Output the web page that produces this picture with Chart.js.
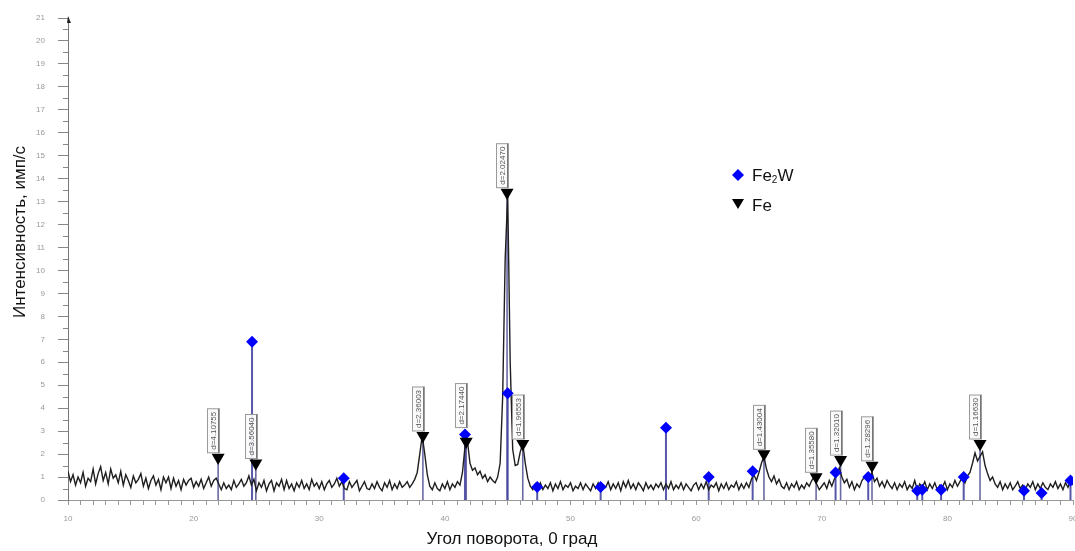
<!DOCTYPE html>
<html>
<head>
<meta charset="utf-8">
<script src="https://cdn.jsdelivr.net/npm/chart.js@4.4.1/dist/chart.umd.min.js"></script>
<style>
html,body{margin:0;padding:0;background:#fff;}
#wrap{position:relative;width:1075px;height:551px;}
</style>
</head>
<body>
<div id="wrap"><canvas id="c"></canvas></div>
<script>
// ---- data ----
const xTitle = 'Угол поворота, 0 град';
const yTitle = 'Интенсивность, имп/с';
const traceStart = 10;
const traceStep = 0.2;
const intensity = [
 1.25,0.8,1.1,0.65,1.0,   0.75,1.2,0.6,0.95,0.8,   1.35,0.7,1.15,1.45,0.85, 1.2,0.7,1.35,0.95,1.1,  0.75,1.25,0.65,1.1,0.85,
 0.55,1.05,0.75,0.9,1.15, 0.6,0.95,0.5,0.85,1.05,  0.65,0.9,0.45,1.0,0.75,  1.0,0.5,0.95,0.6,0.85,  0.45,0.9,0.65,0.85,0.95,
 0.55,0.8,0.6,0.9,0.5,    0.75,1.0,0.6,0.85,0.95,  0.7,0.45,0.75,0.5,0.65,  0.45,0.85,0.55,0.7,0.9,  0.6,0.75,1.05,0.65,0.9,
 0.4,0.75,0.55,0.85,0.4,  0.7,0.85,0.4,0.75,0.6,   0.9,0.45,0.85,0.5,0.7,   0.4,0.75,0.55,0.85,0.5,  0.7,0.45,0.9,0.6,0.75,
 0.5,0.8,0.45,0.7,0.85,   0.55,0.7,0.95,0.6,0.8,   0.5,0.45,0.8,0.55,0.7,   0.85,0.4,0.6,0.8,0.5,    0.45,0.7,0.5,0.8,0.55,
 0.4,0.75,0.55,0.85,0.45, 0.7,0.5,0.8,0.55,0.65,   0.8,0.55,0.7,0.9,1.2,    2.0,2.8,2.0,1.1,0.6,     0.45,0.75,0.5,0.4,0.7,
 0.5,0.8,0.45,0.7,0.55,   0.8,0.65,1.2,2.3,2.55,   1.6,1.3,1.4,1.1,1.25,    0.95,1.1,0.8,1.0,0.85,   0.75,1.0,1.6,4.5,10.5,
 13.3,6.0,2.2,1.5,1.55,   2.1,2.45,1.6,0.95,0.6,   0.45,0.7,0.5,0.75,0.45,  0.65,0.5,0.75,0.4,0.7,   0.5,0.8,0.45,0.65,0.55,
 0.75,0.4,0.6,0.5,0.75,   0.45,0.7,0.55,0.4,0.7,   0.5,0.75,0.45,0.65,0.55, 0.8,0.45,0.7,0.5,0.75,   0.4,0.8,0.55,0.85,0.5,
 0.7,0.45,0.75,0.6,0.4,   0.75,0.5,0.65,0.45,0.7,  0.55,0.75,0.45,0.7,0.5,  0.8,0.45,0.65,0.5,0.75,   0.45,0.7,0.55,0.4,0.65,
 0.75,0.45,0.7,0.5,0.8,   0.45,0.65,0.55,0.75,0.4, 0.7,0.5,0.75,0.45,0.65,  0.55,0.8,0.45,0.7,0.5,   0.75,0.55,0.9,1.1,0.85,
 1.2,1.6,1.9,1.35,1.0,    0.8,1.05,0.7,0.9,0.6,    0.5,0.75,0.45,0.7,0.55,  0.8,0.45,0.65,0.5,0.75,  0.6,0.85,1.0,0.7,0.45,
 0.6,0.75,0.5,0.85,0.6,   0.9,1.1,1.4,1.0,0.75,    0.9,0.55,0.8,0.45,0.7,   0.55,0.85,1.0,1.15,0.9,  1.2,0.8,0.95,0.6,0.8,
 0.55,0.85,0.65,0.5,0.75, 0.45,0.7,0.55,0.8,0.45,  0.65,0.5,0.85,0.45,0.7,  0.55,0.8,0.45,0.7,0.5,   0.75,0.45,0.65,0.55,0.8,
 0.45,0.7,0.55,0.85,0.6,  0.8,1.0,0.75,1.05,1.2,   1.6,2.05,1.7,1.9,2.1,    1.5,1.15,0.85,1.0,0.7,   0.55,0.8,0.45,0.7,0.5,
 0.75,0.45,0.6,0.8,0.5,   0.65,0.45,0.7,0.55,0.8,  0.45,0.7,0.5,0.75,0.55,  0.45,0.7,0.55,0.8,0.5,   0.7,0.45,0.75,0.55,0.85,
 0.65
];
const fe2wAngles  = [24.65, 31.95, 41.6, 45.0, 47.35, 52.4, 57.6, 61.0, 64.5, 71.1, 73.7, 77.6, 78.0, 79.5, 81.3, 86.1, 87.5, 89.8];
const fe2wHeights = [6.9, 0.95, 2.85, 4.65, 0.57, 0.57, 3.15, 1.0, 1.25, 1.2, 1.0, 0.4, 0.45, 0.45, 1.0, 0.4, 0.3, 0.85];
const feAngles  = [21.95, 24.95, 38.25, 41.7, 44.95, 46.2, 65.4, 69.55, 71.5, 74.0, 82.6];
const feHeights = [1.85, 1.6, 2.8, 2.55, 13.4, 2.45, 2.0, 1.0, 1.75, 1.5, 2.45];
const feLabels  = ['d=4.10755','d=3.56040','d=2.36003','d=2.17440','d=2.02470','d=1.96553','d=1.43004','d=1.35580','d=1.32010','d=1.28296','d=1.16630'];
const legendLabels = ['Fe', '2', 'W', 'Fe'];

// ---- build datasets ----
const tracePts = intensity.map((v, i) => ({x: traceStart + i * traceStep, y: v}));
function sticks(angles, heights) {
  const out = [];
  angles.forEach((a, i) => { out.push({x: a, y: 0}, {x: a, y: heights[i]}, {x: a, y: null}); });
  return out;
}
const fe2wPts = fe2wAngles.map((a, i) => ({x: a, y: fe2wHeights[i]}));
const fePts = feAngles.map((a, i) => ({x: a, y: feHeights[i]}));

const FONT = "'Liberation Sans', Arial, sans-serif";
const TRI_R = 7.5;
const DIA_R = 6;

const decor = {
  id: 'decor',
  afterDatasetsDraw(chart) {
    const ctx = chart.ctx, xs = chart.scales.x, ys = chart.scales.y;
    ctx.save();
    feAngles.forEach((a, i) => {
      const px = Math.round(xs.getPixelForValue(a)) + 0.5;
      const py = ys.getPixelForValue(feHeights[i]);
      let bottom = py - TRI_R / 2 - 1;
      // keep the label clear of a Fe2W marker sitting right above the triangle
      fe2wAngles.forEach((b, j) => {
        const bx = xs.getPixelForValue(b), by = ys.getPixelForValue(fe2wHeights[j]);
        if (Math.abs(bx - px) < 10 && by - DIA_R < bottom && by > bottom - 44) bottom = Math.min(bottom, by - DIA_R - 1);
      });
      const top = bottom - 44;
      ctx.fillStyle = 'rgba(250,250,250,0.92)';
      ctx.fillRect(px - 11, top, 12, bottom - top);
      ctx.strokeStyle = '#9a9a9a';
      ctx.lineWidth = 1;
      ctx.strokeRect(px - 11, top, 12, bottom - top);
      ctx.beginPath(); ctx.moveTo(px, top); ctx.lineTo(px, bottom); ctx.strokeStyle = '#777'; ctx.stroke();
      ctx.save();
      ctx.translate(px - 5, (top + bottom) / 2);
      ctx.rotate(-Math.PI / 2);
      ctx.fillStyle = '#555';
      ctx.font = '8px ' + FONT;
      ctx.textAlign = 'center';
      ctx.textBaseline = 'middle';
      ctx.fillText(feLabels[i], 0, 0);
      ctx.restore();
    });
    ctx.restore();
  },
  afterDraw(chart) {
    const ctx = chart.ctx, ys = chart.scales.y, ca = chart.chartArea;
    ctx.save();
    ctx.strokeStyle = '#888';
    ctx.lineWidth = 1;
    for (let v = 0.5; v < 21; v += 1) {
      const py = Math.round(ys.getPixelForValue(v)) + 0.5;
      ctx.beginPath(); ctx.moveTo(ca.left - 5, py); ctx.lineTo(ca.left, py); ctx.stroke();
    }
    ctx.fillStyle = '#222';
    ctx.beginPath();
    ctx.moveTo(ca.left, ca.top - 2);
    ctx.lineTo(ca.left + 3, ca.top + 5);
    ctx.lineTo(ca.left - 1, ca.top + 5);
    ctx.closePath(); ctx.fill();
    ctx.fillStyle = '#111';
    ctx.font = '17px ' + FONT;
    ctx.textAlign = 'center';
    ctx.textBaseline = 'middle';
    ctx.fillText(xTitle, 512, 539);
    ctx.save();
    ctx.translate(20, 232);
    ctx.rotate(-Math.PI / 2);
    ctx.fillText(yTitle, 0, 0);
    ctx.restore();
    const lx = 738;
    ctx.fillStyle = '#0000ff';
    ctx.beginPath();
    ctx.moveTo(lx, 169); ctx.lineTo(lx + 6, 175); ctx.lineTo(lx, 181); ctx.lineTo(lx - 6, 175);
    ctx.closePath(); ctx.fill();
    ctx.fillStyle = '#000';
    ctx.beginPath();
    ctx.moveTo(lx - 6, 199); ctx.lineTo(lx + 6, 199); ctx.lineTo(lx, 209);
    ctx.closePath(); ctx.fill();
    ctx.fillStyle = '#111';
    ctx.textAlign = 'left';
    ctx.textBaseline = 'alphabetic';
    ctx.font = '17px ' + FONT;
    let tx = 752;
    ctx.fillText(legendLabels[0], tx, 181);
    tx += ctx.measureText(legendLabels[0]).width;
    ctx.font = '10px ' + FONT;
    ctx.fillText(legendLabels[1], tx, 183);
    tx += ctx.measureText(legendLabels[1]).width;
    ctx.font = '17px ' + FONT;
    ctx.fillText(legendLabels[2], tx, 181);
    ctx.fillText(legendLabels[3], 752, 211);
    ctx.restore();
  }
};

new Chart(document.getElementById('c'), {
  type: 'line',
  data: {
    datasets: [
      { label: 'trace', data: tracePts, borderColor: '#1e1e1e', borderWidth: 1.4, pointRadius: 0, tension: 0, order: 2 },
      { label: 'Fe2W sticks', data: sticks(fe2wAngles, fe2wHeights), borderColor: 'rgba(70,70,160,0.9)', borderWidth: 2, pointRadius: 0, spanGaps: false, order: 3 },
      { label: 'Fe sticks', data: sticks(feAngles, feHeights), borderColor: 'rgba(80,80,150,0.85)', borderWidth: 1.6, pointRadius: 0, spanGaps: false, order: 3 },
      { label: 'Fe2W', data: fe2wPts, showLine: false, pointStyle: 'rectRot', pointRadius: DIA_R, pointBackgroundColor: '#0000ff', pointBorderColor: '#0000ff', pointBorderWidth: 0, order: 1 },
      { label: 'Fe', data: fePts, showLine: false, pointStyle: 'triangle', rotation: 180, pointRadius: TRI_R, pointBackgroundColor: '#000', pointBorderColor: '#000', pointBorderWidth: 0, order: 0 }
    ]
  },
  options: {
    responsive: true,
    maintainAspectRatio: false,
    animation: false,
    events: [],
    layout: { autoPadding: false, padding: { top: 18, right: 2, left: 0, bottom: 0 } },
    plugins: { legend: { display: false }, tooltip: { enabled: false } },
    scales: {
      x: {
        type: 'linear', min: 10, max: 90,
        ticks: { stepSize: 1, autoSkip: false, maxRotation: 0, color: '#999', font: { size: 8, family: FONT }, padding: 9,
                 callback: v => (v % 10 === 0 ? String(v) : '') },
        grid: { drawOnChartArea: false, tickLength: 5, color: '#999' },
        border: { color: '#999' },
        afterFit(s) { s.height = 51; s.paddingLeft = 0; s.paddingRight = 0; }
      },
      y: {
        min: 0, max: 21,
        ticks: { stepSize: 1, color: '#999', font: { size: 8, family: FONT }, padding: 13 },
        grid: { drawOnChartArea: false, tickLength: 10, color: '#888' },
        border: { color: '#777' },
        afterFit(s) { s.width = 68; s.paddingTop = 0; s.paddingBottom = 0; }
      }
    }
  },
  plugins: [decor]
});
</script>
</body>
</html>
